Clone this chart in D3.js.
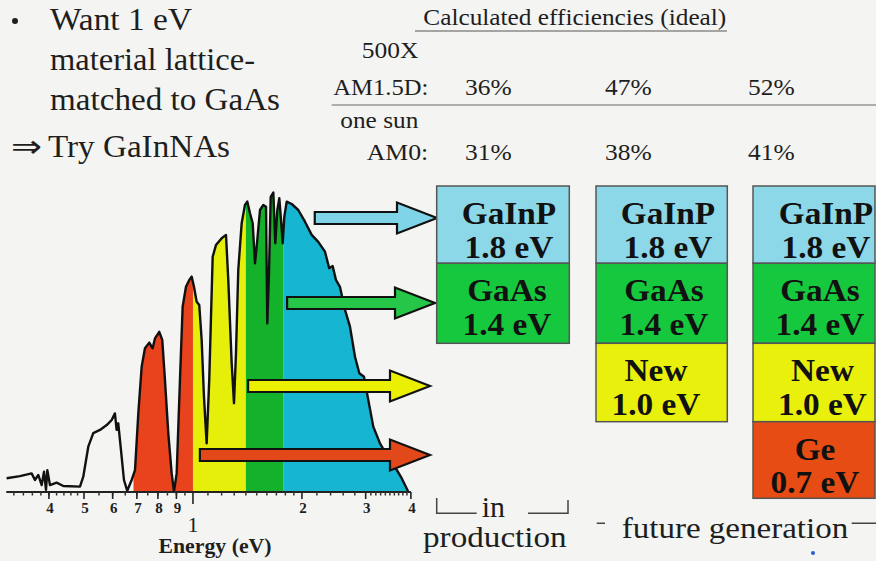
<!DOCTYPE html>
<html><head><meta charset="utf-8">
<script src="https://cdn.jsdelivr.net/npm/d3@7"></script>
<style>html,body{margin:0;padding:0;background:#f4f4f2;}svg{display:block;} text{font-family:"Liberation Serif","Times New Roman",serif;}</style>
</head><body><svg id="c" width="876" height="561"></svg>
<script>
// ---- data ----
const energy = [0.3056,0.3327,0.3583,0.366,0.3738,0.382,0.3877,0.3926,0.396,0.4027,0.420,0.4383,0.4874,0.4977,0.5138,0.5303,0.5535,0.5777,0.5963,0.6087,0.6153,0.6217,0.6312,0.6447,0.6583,0.677,0.6916,0.7063,0.7216,0.7368,0.7573,0.7737,0.7852,0.807,0.8226,0.8368,0.8547,0.8733,0.8862,0.9015,0.9206,0.9365,0.9565,0.9768,0.9917,1.0064,1.0238,1.0409,1.0568,1.0724,1.0909,1.109,1.1335,1.1574,1.2005,1.2338,1.2518,1.2792,1.2981,1.3147,1.334,1.3632,1.3921,1.4125,1.4373,1.4621,1.4838,1.5055,1.5317,1.5642,1.5915,1.6045,1.6219,1.6396,1.6671,1.6884,1.7103,1.7321,1.7509,1.7699,1.788,1.8153,1.8741,1.9537,2.0391,2.128,2.219,2.3157,2.379,2.4315,2.483,2.547,2.63,2.715,2.803,2.881,2.968,3.05,3.149,3.286,3.429,3.614,3.772,3.934];
const irradiance = [0.046,0.053,0.062,0.04,0.057,0.023,0.068,0.007,0.073,0.023,0.031,0.02,0.018,0.051,0.151,0.196,0.207,0.223,0.24,0.262,0.207,0.229,0.151,0.04,0.004,0.04,0.073,0.262,0.418,0.479,0.498,0.479,0.512,0.534,0.507,0.373,0.196,0.062,0.001,0.062,0.373,0.618,0.684,0.707,0.718,0.684,0.634,0.623,0.507,0.318,0.162,0.373,0.784,0.823,0.846,0.857,0.707,0.429,0.296,0.462,0.74,0.896,0.957,0.968,0.929,0.896,0.762,0.84,0.94,0.957,0.951,0.562,0.729,0.984,0.998,0.829,0.94,0.979,0.907,0.829,0.918,0.968,0.96,0.94,0.901,0.857,0.834,0.801,0.746,0.753,0.707,0.684,0.607,0.551,0.451,0.396,0.384,0.307,0.218,0.162,0.123,0.084,0.046,0.001];

const bandStart = [0.685, 1.0, 1.4, 1.78];
const bandEnd   = [1.0, 1.4, 1.78, 4.0];
const bandColors = ["#e8431c", "#e6ef0a", "#14b22a", "#16b6d2"];

const majorTicks = [0.4,0.5,0.6,0.7,0.8,0.9,1,2,3,4];
const majorLabels = ["4","5","6","7","8","9","1","2","3","4"];

const arrowStartE = [2.17, 1.82, 1.42, 1.045];
const arrowColors = ["#80d4e8", "#26c648", "#eaf000", "#e2481a"];

const layerNames = ["GaInP","GaAs","New","Ge"];
const layerGaps  = ["1.8 eV","1.4 eV","1.0 eV","0.7 eV"];
const layerColors = ["#8cd8e8","#16c83e","#e8f00c","#e64c14"];
const columnLayers = [2, 3, 4];

const effHeader = "Calculated efficiencies (ideal)";
const effAM15 = ["36%","47%","52%"];
const effAM0  = ["31%","38%","41%"];

const bulletLines = ["Want 1 eV","material lattice-","matched to GaAs"];

// ---- drawing ----
const svg = d3.select("#c");
svg.append("rect").attr("width",876).attr("height",561).attr("fill","#f4f4f2");
const serif = "Liberation Serif";
const ink = "#1e1e1e";

const x = d3.scaleLog().domain([0.3, 4]).range([3.7, 410.9]);
const y = d3.scaleLinear().domain([0, 1]).range([492, 192]);
const pts = d3.zip(energy, irradiance);

const area = d3.area().x(d=>x(d[0])).y0(y(0)).y1(d=>y(d[1]));
const line = d3.line().x(d=>x(d[0])).y(d=>y(d[1]));

const defs = svg.append("defs");
bandStart.forEach((s,i)=>{
  defs.append("clipPath").attr("id","band"+i).append("rect")
    .attr("x", x(s)).attr("y", 0).attr("width", x(bandEnd[i]) - x(s)).attr("height", y(0));
  svg.append("path").datum(pts).attr("d", area).attr("fill", bandColors[i])
    .attr("clip-path","url(#band"+i+")");
});
svg.append("path").datum(pts).attr("d", line).attr("fill","none")
  .attr("stroke","#111").attr("stroke-width",2.4).attr("stroke-linejoin","round");

// axis
const ax = svg.append("g");
ax.append("line").attr("x1", x(0.305)).attr("x2", x(4)).attr("y1", y(0)).attr("y2", y(0))
  .attr("stroke","#222").attr("stroke-width",2);
const minor = [].concat(d3.range(0.32,0.5,0.02), d3.range(0.55,1,0.05), d3.range(1.1,2,0.1), d3.range(2.2,3,0.2), d3.range(3.1,4,0.1));
ax.selectAll(".mn").data(minor).join("line").attr("x1",d=>x(d)).attr("x2",d=>x(d))
  .attr("y1",y(0)).attr("y2",y(0)+3.5).attr("stroke","#333").attr("stroke-width",1.5);
ax.selectAll(".mj").data(majorTicks).join("line").attr("x1",d=>x(d)).attr("x2",d=>x(d))
  .attr("y1",y(0)).attr("y2",d=>y(0)+(d===1?12:7)).attr("stroke","#222").attr("stroke-width",1.6);
ax.selectAll(".lb").data(majorTicks).join("text")
  .attr("x",d=>x(d)+ (d===1?0:1)).attr("y",(d)=> d===1?531.5:513)
  .attr("text-anchor","middle").style("font-family",serif)
  .attr("font-weight",(d)=>d===1?"normal":"bold").attr("font-size",(d)=>d===1?22:15)
  .attr("fill",ink).text((d,i)=>majorLabels[i]);
svg.append("text").attr("x",215).attr("y",553).attr("text-anchor","middle")
  .style("font-family",serif).attr("font-weight","bold").attr("font-size",20).attr("fill",ink)
  .attr("textLength",113).attr("lengthAdjust","spacingAndGlyphs").text("Energy (eV)");

// arrows
const arrowY = [218, 303, 386, 455];
const arrowTip = [437, 435, 430, 430];
arrowStartE.forEach((e,i)=>{
  const x0 = x(e), xt = arrowTip[i], cy = arrowY[i], hb = xt - 40, sh = 6, hh = 15.5;
  const p = d3.path();
  p.moveTo(x0, cy-sh); p.lineTo(hb, cy-sh); p.lineTo(hb, cy-hh); p.lineTo(xt, cy);
  p.lineTo(hb, cy+hh); p.lineTo(hb, cy+sh); p.lineTo(x0, cy+sh); p.closePath();
  svg.append("path").attr("d", p.toString()).attr("fill", arrowColors[i])
    .attr("stroke","#111").attr("stroke-width",2.2).attr("stroke-linejoin","miter");
});

// stacks
const colX = [436.7, 596, 753], colW = [132.6, 131.3, 122];
const layerTop = [186, 263.3, 343.3, 421.7, 498.3];
const textCX = [[509, 507], [668, 664, 656, 0], [826, 820, 822.5, 815]];
columnLayers.forEach((n,c)=>{
  const g = svg.append("g");
  for (let k=0;k<n;k++){
    g.append("rect").attr("x",colX[c]).attr("y",layerTop[k]).attr("width",colW[c])
      .attr("height",layerTop[k+1]-layerTop[k]).attr("fill",layerColors[k])
      .attr("stroke","#555").attr("stroke-width",1.5);
  }
  for (let k=0;k<n;k++){
    const cx = textCX[c][k];
    [layerNames[k], layerGaps[k]].forEach((t,j)=>{
      const tx = g.append("text").attr("x",cx).attr("y",layerTop[k] + (j===0?38:71.5))
        .attr("text-anchor","middle").style("font-family",serif).attr("font-weight","bold")
        .attr("font-size",32).attr("fill","#111").text(t);
      const L = tx.node().getComputedTextLength();
      tx.attr("textLength", L*1.04).attr("lengthAdjust","spacingAndGlyphs");
    });
  }
});

// efficiency table
function txt(s, xx, yy, size, anchor, len){
  const t = svg.append("text").attr("x",xx).attr("y",yy).style("font-family",serif)
    .attr("font-size",size).attr("fill",ink).attr("text-anchor",anchor||"start").text(s);
  if (len) t.attr("textLength",len).attr("lengthAdjust","spacingAndGlyphs");
  return t;
}
txt(effHeader, 423.3, 25, 24, "start", 303);
svg.append("line").attr("x1",415).attr("x2",727).attr("y1",31).attr("y2",31).attr("stroke","#555").attr("stroke-width",1.2);
txt("500X", 418.3, 58.3, 24, "end", 56.6);
txt("AM1.5D:", 428.3, 95, 24, "end", 95);
txt("one sun", 418.3, 128.3, 24, "end", 78);
txt("AM0:", 428.3, 160, 24, "end", 61.6);
svg.append("line").attr("x1",331.7).attr("x2",876).attr("y1",105).attr("y2",105).attr("stroke","#666").attr("stroke-width",1.2);
const effX = [465, 605, 748];
effAM15.forEach((s,i)=> txt(s, effX[i], 95, 24, "start", 46.7));
effAM0.forEach((s,i)=> txt(s, effX[i], 160, 24, "start", 46.7));

// left text
svg.append("circle").attr("cx",15).attr("cy",21).attr("r",3).attr("fill",ink);
const bulletY = [30, 70, 110], bulletW = [142, 205, 230];
bulletLines.forEach((s,i)=> txt(s, 50, bulletY[i], 31, "start", bulletW[i]));
txt("\u21D2", 11, 156.7, 31, "start", 31);
txt("Try GaInNAs", 48, 156.7, 31, "start", 182);

// bottom annotations
const br = d3.path();
br.moveTo(436.7,498); br.lineTo(436.7,513.3); br.lineTo(476.7,513.3);
br.moveTo(528,513.3); br.lineTo(568,513.3); br.lineTo(568,500);
svg.append("path").attr("d",br.toString()).attr("fill","none").attr("stroke","#444").attr("stroke-width",1.5);
txt("in", 481.7, 516.7, 30, "start", 23.3);
txt("production", 423, 546.7, 30, "start", 143.7);
const fb = d3.path();
fb.moveTo(596.7,523.3); fb.lineTo(605,523.3); fb.moveTo(851.7,523.3); fb.lineTo(876,523.3);
svg.append("path").attr("d",fb.toString()).attr("fill","none").attr("stroke","#444").attr("stroke-width",1.5);
txt("future generation", 621.7, 538.3, 30, "start", 226.6);
svg.append("circle").attr("cx",813).attr("cy",553).attr("r",2).attr("fill","#2a5bd0");
</script></body></html>
